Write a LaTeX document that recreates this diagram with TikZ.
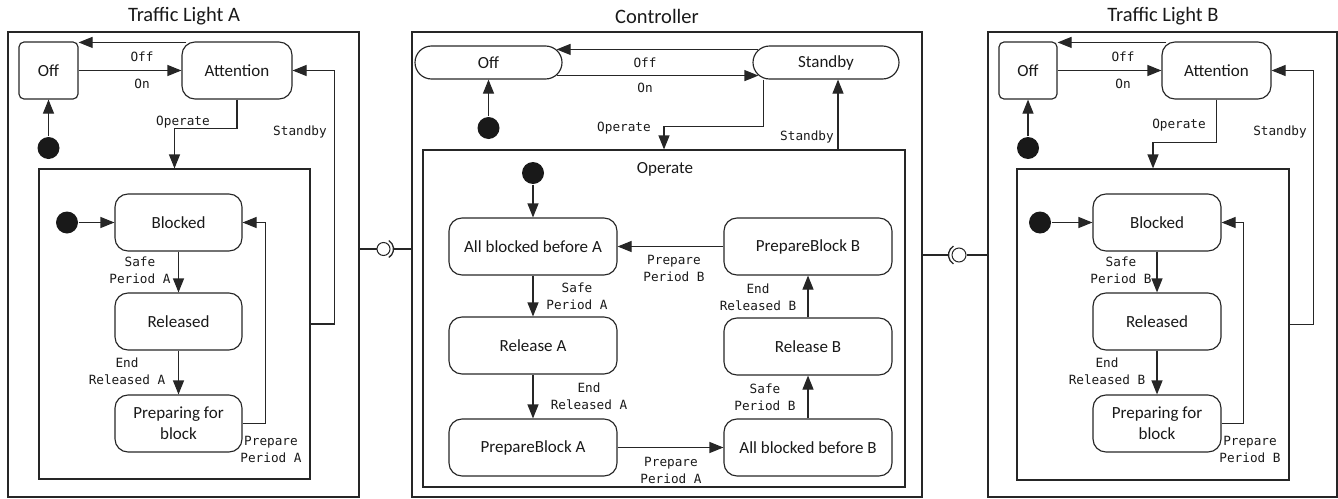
\documentclass[tikz,border=0pt]{standalone}
\usepackage{fontspec}
\setmainfont{Carlito}
\newfontfamily\lblfont{DejaVu Sans Mono}
\usetikzlibrary{arrows.meta,calc}
\begin{document}
\begin{tikzpicture}[x=1pt,y=-1pt,
  line width=1.15pt, draw=black!85, text=black!90,
  arr/.style={-{Triangle[length=14pt,width=11pt]}},
  st/.style={draw,rounded corners=13pt,inner sep=0pt,minimum height=57pt,font=\fontsize{17}{21}\selectfont,align=center},
  pill/.style={draw,rounded corners=16.5pt,inner sep=0pt,minimum height=33pt,font=\fontsize{17}{21}\selectfont},
  lbl/.style={inner sep=0pt,align=center,font=\lblfont\fontsize{12.7}{17}\selectfont},
  ttl/.style={inner sep=0pt,font=\fontsize{20.5}{24}\selectfont},
  box/.style={draw,inner sep=0pt},
  dot/.style={circle,fill=black!90,draw=none,inner sep=0pt,minimum size=22pt},
  ball/.style={circle,draw,fill=white,inner sep=0pt,line width=1pt},
]
\useasboundingbox (0,0) rectangle (1338,498);

% ================= Traffic Light A =================
\node[ttl] (tA) at (184,16) {Traffic Light A};
\node[box,minimum width=351pt,minimum height=465pt] (outA) at (183.5,264.5) {};
\node[st,rounded corners=5pt,minimum width=59pt] (offA) at (48.5,70.5) {Off};
\node[st,minimum width=110pt] (attA) at (237,70.5) {Attention};
\node[dot] (dotA1) at (48.5,148) {};
\node[box,minimum width=271pt,minimum height=310pt] (inA) at (174.5,324) {};
\node[dot] (dotA2) at (67,222.5) {};
\node[st,minimum width=127pt] (blkA) at (178.5,222.5) {Blocked};
\node[st,minimum width=127pt] (relA) at (178.5,321.5) {Released};
\node[st,minimum width=127pt] (pfbA) at (178.5,423.5) {Preparing for\\block};

\draw[arr] (dotA1) -- (offA.south);
\draw[arr] (offA.east) -- (attA.west);
\draw[arr] ($(attA.north west)+(5,1)$) -- ($(offA.north east)+(0,1)$);
\draw[arr] (attA.south) -- ++(0,29) -| (inA.north);
\draw[arr] (inA.east) -- ++(24,0) |- (attA.east);
\draw[arr] (dotA2) -- (blkA.west);
\draw[arr] (blkA.south) -- (relA.north);
\draw[arr] (relA.south) -- (pfbA.north);
\draw[arr] (pfbA.east) -- ++(23,0) |- (blkA.east);

\node[lbl] (lA1) at (142,57) {Off};
\node[lbl] (lA2) at (142,84) {On};
\node[lbl] (lA3) at (183,122) {Operate};
\node[lbl] (lA4) at (300,132) {Standby};
\node[lbl] (lA5) at (140,270) {Safe\\Period A};
\node[lbl] (lA6) at (127,371) {End\\Released A};
\node[lbl] (lA7) at (271,449) {Prepare\\Period A};

% ================= Controller =================
\node[ttl] (tC) at (657,16) {Controller};
\node[box,minimum width=510pt,minimum height=465pt] (outC) at (667,264.5) {};
\node[pill,minimum width=147pt] (offC) at (488.5,62.5) {Off};
\node[pill,minimum width=146pt] (stbC) at (826,62.5) {Standby};
\node[dot] (dotC1) at (488.5,128) {};
\node[box,minimum width=482pt,minimum height=337pt] (opC) at (664,318.5) {};
\node[inner sep=0pt,font=\fontsize{17}{21}\selectfont] (opT) at (665,169) {Operate};
\node[dot] (dotC2) at (533,173) {};
\node[st,minimum width=168pt] (allA) at (533,246.5) {All blocked before A};
\node[st,minimum width=168pt] (prB) at (808,246.5) {PrepareBlock B};
\node[st,minimum width=168pt] (rlA) at (533,345.5) {Release A};
\node[st,minimum width=168pt] (prA) at (533,447.5) {PrepareBlock A};
\node[st,minimum width=168pt] (allB) at (808,447.5) {All blocked before B};
\node[st,minimum width=168pt] (rlB) at (808,346.5) {Release B};

\draw[arr] (dotC1) -- (offC.south);
\draw[arr] ($(stbC.north west)+(6,4)$) -- ($(offC.north east)+(-6,4)$);
\draw[arr] ($(offC.south east)+(-6,-4)$) -- ($(stbC.south west)+(6,-4)$);
\coordinate (c1) at ($(stbC.south west)+(11,0)$);
\draw[arr] (c1) -- ++(0,47) -| (opC.north);
\coordinate (c2) at ($(stbC.south)+(12,0)$);
\draw[arr] (c2 |- opC.north) -- (c2);
\draw[arr] (dotC2) -- (allA.north);
\draw[arr] (prB.west) -- (allA.east);
\draw[arr] (allA.south) -- (rlA.north);
\draw[arr] (rlA.south) -- (prA.north);
\draw[arr] (prA.east) -- (allB.west);
\draw[arr] (allB.north) -- (rlB.south);
\draw[arr] (rlB.north) -- (prB.south);

\node[lbl] (lC1) at (645,63) {Off};
\node[lbl] (lC2) at (645,88) {On};
\node[lbl] (lC3) at (624,128) {Operate};
\node[lbl] (lC4) at (807,137) {Standby};
\node[lbl] (lC5) at (674,268) {Prepare\\Period B};
\node[lbl] (lC6) at (577,296) {Safe\\Period A};
\node[lbl] (lC7) at (589,396) {End\\Released A};
\node[lbl] (lC8) at (671,470) {Prepare\\Period A};
\node[lbl] (lC9) at (765,397) {Safe\\Period B};
\node[lbl] (lC10) at (758,297) {End\\Released B};

% ================= Traffic Light B =================
\node[ttl] (tB) at (1163,16) {Traffic Light B};
\node[box,minimum width=349pt,minimum height=465pt] (outB) at (1162.5,264.5) {};
\node[st,rounded corners=5pt,minimum width=58pt] (offB) at (1028,70.5) {Off};
\node[st,minimum width=109pt] (attB) at (1216.5,70.5) {Attention};
\node[dot] (dotB1) at (1028,148) {};
\node[box,minimum width=272pt,minimum height=311pt] (inB) at (1153,324.5) {};
\node[dot] (dotB2) at (1040,222.5) {};
\node[st,minimum width=128pt] (blkB) at (1157,222.5) {Blocked};
\node[st,minimum width=128pt] (relB) at (1157,321.5) {Released};
\node[st,minimum width=128pt] (pfbB) at (1157,423.5) {Preparing for\\block};

\draw[arr] (dotB1) -- (offB.south);
\draw[arr] (offB.east) -- (attB.west);
\draw[arr] ($(attB.north west)+(5,1)$) -- ($(offB.north east)+(0,1)$);
\draw[arr] (attB.south) -- ++(0,43) -| (inB.north);
\draw[arr] (inB.east) -- ++(24,0) |- (attB.east);
\draw[arr] (dotB2) -- (blkB.west);
\draw[arr] (blkB.south) -- (relB.north);
\draw[arr] (relB.south) -- (pfbB.north);
\draw[arr] (pfbB.east) -- ++(22,0) |- (blkB.east);

\node[lbl] (lB1) at (1123,57) {Off};
\node[lbl] (lB2) at (1123,84) {On};
\node[lbl] (lB3) at (1179,125) {Operate};
\node[lbl] (lB4) at (1280,132) {Standby};
\node[lbl] (lB5) at (1121,270) {Safe\\Period B};
\node[lbl] (lB6) at (1107,371) {End\\Released B};
\node[lbl] (lB7) at (1250,449) {Prepare\\Period B};

% ================= Interfaces =================
\node[ball,minimum size=13pt] (ballA) at (383.5,249) {};
\draw (outA.east |- ballA) -- (ballA.west);
\draw ($(ballA.center)+(10,0)$) -- (outC.west |- ballA);
\draw[line width=1.3pt] ([shift={(-58:10pt)}]ballA.center) arc[start angle=-58,end angle=58,radius=10pt];

\node[ball,minimum size=14pt] (ballB) at (959,255) {};
\draw (ballB.east) -- (outB.west |- ballB);
\draw (outC.east |- ballB) -- ($(ballB.center)+(-10.5,0)$);
\draw[line width=1.3pt] ([shift={(122:10.5pt)}]ballB.center) arc[start angle=122,end angle=238,radius=10.5pt];
\end{tikzpicture}
\end{document}
